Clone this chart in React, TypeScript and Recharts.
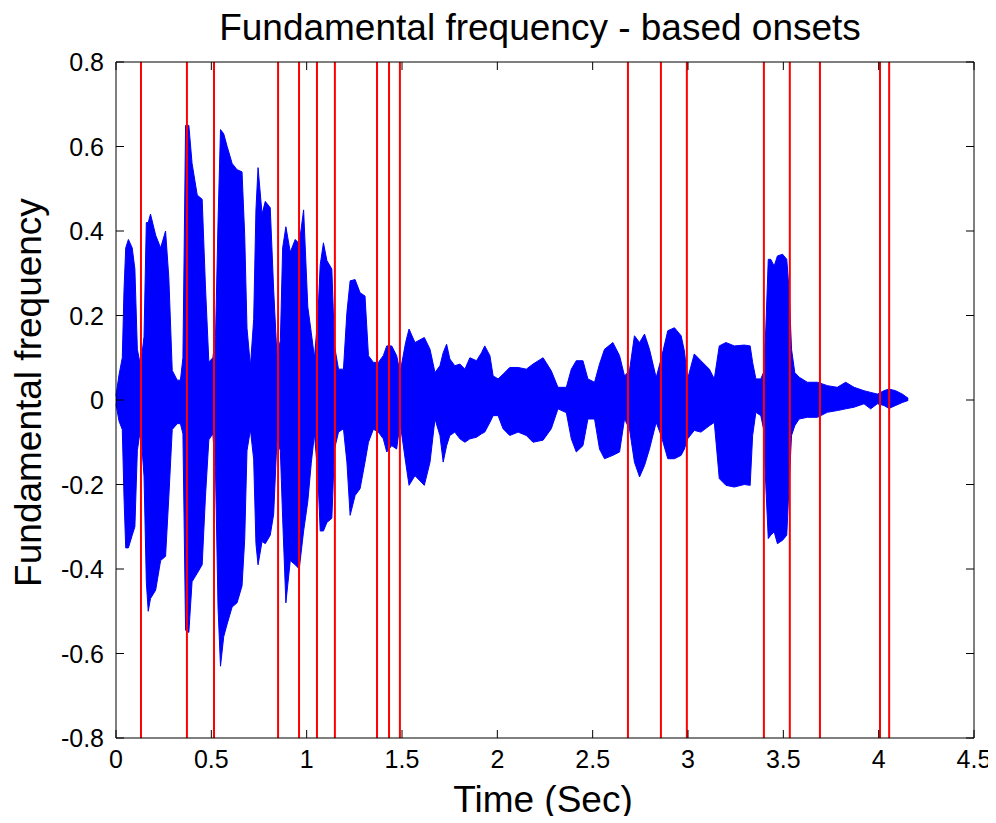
import { Area, ComposedChart, ReferenceLine, XAxis, YAxis } from "recharts";

// envelope of the waveform (seconds, upper, lower)
const TIME = [
  0.0, 0.016, 0.033, 0.042, 0.051, 0.065, 0.085, 0.099, 0.112, 0.129, 0.147, 0.159, 0.169, 0.181, 0.208, 0.234,
  0.26, 0.277, 0.295, 0.321, 0.338, 0.351, 0.365, 0.382, 0.399, 0.426, 0.452, 0.469, 0.487, 0.508, 0.522, 0.535,
  0.548, 0.565, 0.583, 0.609, 0.635, 0.661, 0.675, 0.687, 0.705, 0.722, 0.734, 0.745, 0.766, 0.783, 0.809, 0.827,
  0.844, 0.862, 0.874, 0.891, 0.914, 0.94, 0.961, 0.984, 1.006, 1.024, 1.041, 1.059, 1.071, 1.088, 1.106, 1.132,
  1.146, 1.167, 1.193, 1.211, 1.228, 1.254, 1.28, 1.306, 1.324, 1.35, 1.376, 1.402, 1.42, 1.446, 1.472, 1.49,
  1.519, 1.537, 1.568, 1.617, 1.647, 1.673, 1.699, 1.716, 1.734, 1.751, 1.777, 1.804, 1.83, 1.856, 1.891, 1.917,
  1.934, 1.961, 1.978, 2.004, 2.03, 2.065, 2.109, 2.152, 2.187, 2.24, 2.283, 2.318, 2.362, 2.388, 2.414, 2.449,
  2.475, 2.51, 2.536, 2.562, 2.606, 2.641, 2.667, 2.693, 2.719, 2.746, 2.772, 2.798, 2.833, 2.859, 2.894, 2.929,
  2.964, 2.981, 2.998, 3.033, 3.068, 3.112, 3.138, 3.164, 3.199, 3.243, 3.295, 3.326, 3.339, 3.356, 3.382, 3.396,
  3.408, 3.421, 3.434, 3.452, 3.469, 3.496, 3.518, 3.53, 3.543, 3.56, 3.583, 3.626, 3.679, 3.731, 3.783, 3.827,
  3.871, 3.923, 3.958, 3.993, 4.028, 4.054, 4.089, 4.124, 4.155,
];
const UPPER = [
  0.01, 0.06, 0.1, 0.26, 0.36, 0.38, 0.36, 0.31, 0.12, 0.08, 0.15, 0.42, 0.42, 0.44, 0.39, 0.36,
  0.4, 0.29, 0.07, 0.047, 0.047, 0.1, 0.65, 0.65, 0.56, 0.485, 0.475, 0.27, 0.09, 0.1, 0.15, 0.42,
  0.64, 0.63, 0.6, 0.56, 0.545, 0.54, 0.39, 0.17, 0.08, 0.19, 0.45, 0.55, 0.44, 0.47, 0.455, 0.26,
  0.107, 0.14, 0.36, 0.41, 0.35, 0.38, 0.37, 0.45, 0.22, 0.16, 0.1, 0.2, 0.32, 0.372, 0.33, 0.31,
  0.128, 0.073, 0.073, 0.207, 0.282, 0.285, 0.254, 0.246, 0.105, 0.089, 0.089, 0.105, 0.128, 0.128, 0.105, 0.065,
  0.136, 0.168, 0.136, 0.148, 0.12, 0.065, 0.081, 0.112, 0.132, 0.097, 0.081, 0.085, 0.073, 0.1, 0.093, 0.112,
  0.128, 0.105, 0.057, 0.05, 0.061, 0.077, 0.077, 0.073, 0.085, 0.1, 0.069, 0.03, 0.03, 0.073, 0.093, 0.093,
  0.05, 0.042, 0.085, 0.12, 0.136, 0.105, 0.057, 0.069, 0.152, 0.136, 0.156, 0.12, 0.053, 0.097, 0.164, 0.171,
  0.152, 0.116, 0.05, 0.109, 0.093, 0.073, 0.05, 0.128, 0.136, 0.128, 0.13, 0.128, 0.089, 0.05, 0.05, 0.065,
  0.168, 0.333, 0.333, 0.317, 0.341, 0.345, 0.333, 0.262, 0.12, 0.065, 0.054, 0.042, 0.042, 0.034, 0.03, 0.042,
  0.03, 0.022, 0.018, 0.014, 0.022, 0.026, 0.022, 0.014, 0.004,
];
const LOWER = [
  -0.01, -0.05, -0.07, -0.23, -0.35, -0.35, -0.32, -0.3, -0.12, -0.065, -0.18, -0.43, -0.5, -0.47, -0.45, -0.38,
  -0.37, -0.23, -0.07, -0.056, -0.056, -0.08, -0.545, -0.55, -0.43, -0.41, -0.39, -0.23, -0.094, -0.08, -0.17, -0.49,
  -0.63, -0.56, -0.53, -0.49, -0.48, -0.44, -0.33, -0.12, -0.07, -0.14, -0.34, -0.39, -0.335, -0.34, -0.32, -0.27,
  -0.094, -0.12, -0.28, -0.48, -0.38, -0.39, -0.4, -0.31, -0.24, -0.15, -0.08, -0.18, -0.31, -0.31, -0.29, -0.28,
  -0.116, -0.076, -0.068, -0.147, -0.273, -0.226, -0.21, -0.147, -0.1, -0.069, -0.076, -0.092, -0.123, -0.108, -0.116, -0.053,
  -0.147, -0.202, -0.179, -0.202, -0.147, -0.045, -0.084, -0.147, -0.108, -0.084, -0.076, -0.092, -0.1, -0.092, -0.088, -0.08,
  -0.076, -0.053, -0.037, -0.037, -0.068, -0.084, -0.076, -0.084, -0.1, -0.095, -0.068, -0.021, -0.03, -0.092, -0.123, -0.108,
  -0.045, -0.045, -0.116, -0.139, -0.131, -0.123, -0.045, -0.068, -0.147, -0.182, -0.155, -0.116, -0.053, -0.084, -0.139, -0.139,
  -0.131, -0.116, -0.092, -0.072, -0.076, -0.061, -0.053, -0.186, -0.202, -0.206, -0.2, -0.202, -0.084, -0.029, -0.037, -0.068,
  -0.202, -0.328, -0.32, -0.312, -0.34, -0.332, -0.32, -0.202, -0.084, -0.061, -0.045, -0.041, -0.041, -0.029, -0.025, -0.021,
  -0.017, -0.009, -0.021, -0.009, -0.013, -0.02, -0.013, -0.006, -0.001,
];

// detected onsets (seconds)
const ONSETS = [
  0.131, 0.372, 0.514, 0.85, 0.96, 1.054, 1.148, 1.369, 1.432, 1.489, 2.685, 2.858, 2.994, 3.398, 3.534, 3.692,
  4.007, 4.055,
];

const X_TICKS = [0, 0.5, 1, 1.5, 2, 2.5, 3, 3.5, 4, 4.5];
const Y_TICKS = [-0.8, -0.6, -0.4, -0.2, 0, 0.2, 0.4, 0.6, 0.8];

const data = TIME.map((t, i) => ({ t, band: [LOWER[i], UPPER[i]] }));

const FONT = "Arial, 'Liberation Sans', Helvetica, sans-serif";
const TICK = 8;
const PLOT_W = 858;
const PLOT_H = 676;

// MATLAB-style inward ticks, mirrored on the opposite side of the box
function BottomTick({ x, y, payload }: any) {
  return (
    <g>
      <line x1={x} y1={y} x2={x} y2={y - TICK} stroke="#000" />
      <line x1={x} y1={y - PLOT_H} x2={x} y2={y - PLOT_H + TICK} stroke="#000" />
      <text x={x} y={y + 30} textAnchor="middle" fontSize={25} fontFamily={FONT} fill="#000">
        {String(payload.value)}
      </text>
    </g>
  );
}

function LeftTick({ x, y, payload }: any) {
  return (
    <g>
      <line x1={x} y1={y} x2={x + TICK} y2={y} stroke="#000" />
      <line x1={x + PLOT_W} y1={y} x2={x + PLOT_W - TICK} y2={y} stroke="#000" />
      <text x={x - 12} y={y + 9} textAnchor="end" fontSize={25} fontFamily={FONT} fill="#000">
        {String(payload.value)}
      </text>
    </g>
  );
}

export default function App() {
  return (
    <div style={{ position: "relative", width: 988, height: 808, fontFamily: FONT, color: "#000" }}>
      <ComposedChart width={988} height={808} data={data} margin={{ top: 54, right: 22, bottom: 8, left: 0 }}>
        <XAxis
          dataKey="t"
          type="number"
          domain={[0, 4.5]}
          ticks={X_TICKS}
          interval={0}
          height={70}
          tickSize={0}
          tickMargin={0}
          tickLine={false}
          tick={<BottomTick />}
          axisLine={{ stroke: "#000" }}
        />
        <YAxis
          type="number"
          domain={[-0.8, 0.8]}
          ticks={Y_TICKS}
          interval={0}
          width={108}
          tickSize={0}
          tickMargin={0}
          tickLine={false}
          tick={<LeftTick />}
          axisLine={{ stroke: "#000" }}
        />
        <Area
          dataKey="band"
          type="linear"
          stroke="#0000ff"
          strokeWidth={1}
          fill="#0000ff"
          fillOpacity={1}
          isAnimationActive={false}
          dot={false}
          activeDot={false}
        />
        {ONSETS.map((o) => (
          <ReferenceLine key={o} x={o} stroke="#ff0000" strokeWidth={2} />
        ))}
        <ReferenceLine y={0.8} stroke="#000" strokeWidth={1} />
        <ReferenceLine x={4.5} stroke="#000" strokeWidth={1} />
      </ComposedChart>
      <div
        style={{
          position: "absolute",
          left: 0,
          top: 1,
          width: 1064,
          textAlign: "center",
          fontSize: 37,
          lineHeight: "37px",
          whiteSpace: "nowrap",
        }}
      >
        Fundamental frequency - based onsets
      </div>
      <div
        style={{
          position: "absolute",
          left: 335,
          top: 773,
          width: 400,
          textAlign: "center",
          fontSize: 37,
          lineHeight: "37px",
          whiteSpace: "nowrap",
        }}
      >
        Time (Sec)
      </div>
      <div
        style={{
          position: "absolute",
          left: -230,
          top: 366,
          width: 500,
          height: 37,
          textAlign: "center",
          fontSize: 37,
          lineHeight: "37px",
          whiteSpace: "nowrap",
          transform: "rotate(-90deg)",
        }}
      >
        Fundamental frequency
      </div>
    </div>
  );
}
